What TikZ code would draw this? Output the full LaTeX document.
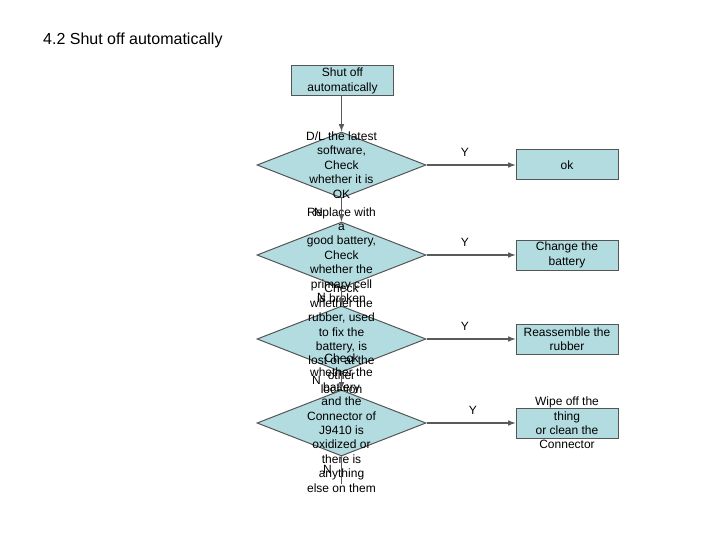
\documentclass[tikz,border=0pt]{standalone}
\usepackage{fontspec}
\setmainfont{Liberation Sans}
\usetikzlibrary{shapes.geometric,arrows}
\definecolor{boxfill}{RGB}{178,220,224}
\definecolor{boxline}{RGB}{85,85,85}
\definecolor{linegray}{RGB}{90,90,90}
\tikzset{
  procbox/.style={rectangle, draw=boxline, fill=boxfill, line width=1pt,
    minimum width=102pt, minimum height=30pt, inner sep=0pt, align=center,
    font=\fontsize{12}{14.4}\selectfont},
  decision/.style={diamond, draw=boxline, fill=boxfill, line width=1pt,
    minimum width=169pt, minimum height=66pt, inner sep=0pt},
  intext/.style={align=center, inner sep=0pt, font=\fontsize{12}{14.4}\selectfont},
  flow/.style={draw=linegray, line width=1.5pt, ->, >=latex},
  yn/.style={font=\fontsize{12}{14.4}\selectfont, inner sep=0pt}
}
\begin{document}
\begin{tikzpicture}[x=1pt,y=-1pt]
				\useasboundingbox (0,0) rectangle (720,540);
				\node[anchor=west, font=\fontsize{16}{19}\selectfont, inner sep=0pt] (title) at (43,40) {4.2 Shut off automatically};
				\node[procbox] (start) at (342.5,81) {Shut off\\automatically};
				\node[decision, label={[intext]center:D/L the latest\\software,\\Check\\whether it is\\OK}] (d1) at (341.5,165) {};
				\node[decision, label={[intext]center:Replace with\\a\\good battery,\\Check\\whether the\\primary cell\\is broken}] (d2) at (341.5,255) {};
				\node[decision, label={[intext]center:Check\\whether the\\rubber, used\\to fix the\\battery, is\\lost or at the\\other\\location}] (d3) at (341.5,339) {};
				\node[decision, label={[intext]center:Check\\whether the\\battery\\and the\\Connector of\\J9410 is\\oxidized or\\there is\\anything\\else on them}] (d4) at (341.5,423) {};
				\node[procbox] (ok) at (567,165) {ok};
				\node[procbox] (battery) at (567,255) {Change the\\battery};
				\node[procbox] (rubber) at (567,339) {Reassemble the\\rubber};
				\node[procbox, label={[intext]center:Wipe off the\\thing\\or clean the\\Connector}] (wipe) at (567,423) {};
				\coordinate (end) at (341.5,484);
				\draw[flow] (start.south -| d1.north) to (d1.north);
				\draw[flow] (d1.south) to node[yn, pos=.6, left=18pt]{N} (d2.north);
				\draw[flow] (d2.south) to node[yn, pos=.55, left=15pt]{N} (d3.north);
				\draw[flow] (d3.south) to node[yn, pos=.45, left=20pt]{N} (d4.north);
				\draw[draw=linegray, line width=1.5pt] (d4.south) to node[yn, pos=.45, left=9pt]{N} (end);
				\draw[flow] (d1.east) to node[yn, pos=.43, above=8pt]{Y} (ok.west);
				\draw[flow] (d2.east) to node[yn, pos=.43, above=8pt]{Y} (battery.west);
				\draw[flow] (d3.east) to node[yn, pos=.43, above=8pt]{Y} (rubber.west);
				\draw[flow] (d4.east) to node[yn, pos=.52, above=8pt]{Y} (wipe.west);
			\end{tikzpicture}
\end{document}
